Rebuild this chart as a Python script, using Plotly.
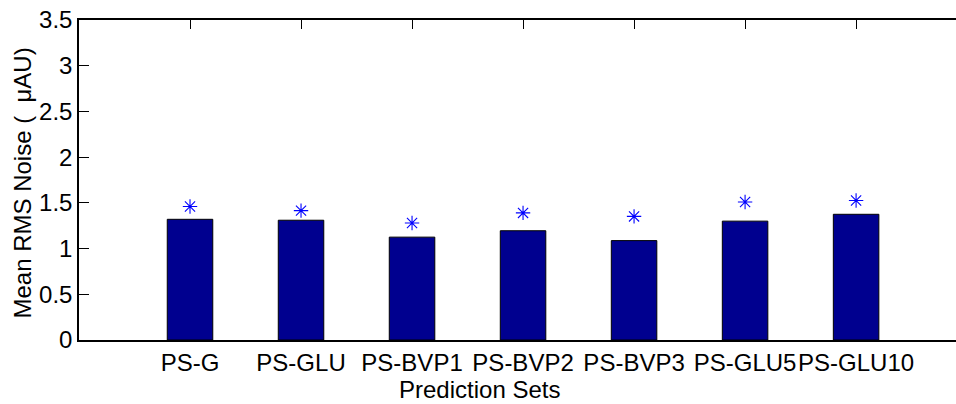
import plotly.graph_objects as go

categories = ["PS-G", "PS-GLU", "PS-BVP1", "PS-BVP2", "PS-BVP3", "PS-GLU5", "PS-GLU10"]
positions = [1, 2, 3, 4, 5, 6, 7]
bar_values = [1.32, 1.31, 1.125, 1.195, 1.087, 1.30, 1.375]
star_values = [1.46, 1.415, 1.28, 1.39, 1.352, 1.51, 1.525]
y_ticks = [0, 0.5, 1, 1.5, 2, 2.5, 3, 3.5]
y_tick_labels = ["0", "0.5", "1", "1.5", "2", "2.5", "3", "3.5"]
x_title = "Prediction Sets"
y_title = "Mean RMS Noise (\u00a0\u00a0\u03bcAU)"

FONT = "Liberation Sans, Arial, Helvetica, sans-serif"
FS = 24

fig = go.Figure()
fig.add_trace(go.Bar(
    x=positions, y=bar_values, width=0.41,
    marker=dict(color="#00008F", line=dict(color="#000000", width=1)),
    showlegend=False,
))
fig.add_trace(go.Scatter(
    x=positions, y=star_values, mode="markers",
    marker=dict(symbol="asterisk-open", size=12, color="#0000FF",
                line=dict(color="#0000FF", width=1.1)),
    showlegend=False,
))

fig.update_layout(
    width=956, height=404,
    margin=dict(l=79, r=0, t=20, b=64, autoexpand=False),
    paper_bgcolor="white", plot_bgcolor="white",
    font=dict(family=FONT, size=FS, color="#000000"),
    xaxis=dict(
        range=[0, 7.9], tickmode="array", tickvals=positions, ticktext=categories,
        showline=True, linecolor="#000000", linewidth=1.5, mirror="ticks",
        ticks="inside", ticklen=9, tickcolor="#000000", tickwidth=1,
        showgrid=False, zeroline=False, layer="below traces",
        tickfont=dict(size=FS), tickangle=0, automargin=False,
    ),
    yaxis=dict(
        range=[0, 3.5], tickmode="array", tickvals=y_ticks, ticktext=y_tick_labels,
        showline=True, linecolor="#000000", linewidth=1.5, mirror=False,
        ticks="inside", ticklen=10, tickcolor="#000000", tickwidth=1,
        showgrid=False, zeroline=False,
        tickfont=dict(size=FS), automargin=False,
    ),
    annotations=[
        dict(text=x_title, xref="paper", yref="paper", x=0.457, y=-0.155,
             xanchor="center", yanchor="middle", showarrow=False,
             font=dict(size=FS)),
        dict(text=y_title, xref="paper", yref="paper", x=-0.0639, y=0.492,
             xanchor="center", yanchor="middle", showarrow=False, textangle=-90,
             font=dict(size=FS)),
    ],
)

fig.write_html("out.html")
